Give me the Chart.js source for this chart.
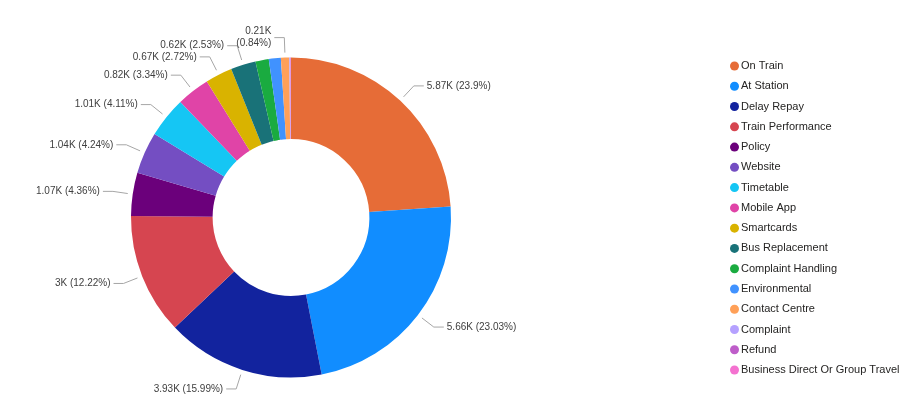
<!DOCTYPE html>
<html>
<head>
<meta charset="UTF-8">
<style>
  body { margin: 0; background: #fff; }
  #wrap { position: relative; width: 903px; height: 408px; }
</style>
</head>
<body>
<div id="wrap"><canvas id="myChart"></canvas></div>
<script src="https://cdn.jsdelivr.net/npm/chart.js@4/dist/chart.umd.min.js"></script>
<script>
const categories = ['On Train', 'At Station', 'Delay Repay', 'Train Performance', 'Policy', 'Website',
  'Timetable', 'Mobile App', 'Smartcards', 'Bus Replacement', 'Complaint Handling', 'Environmental',
  'Contact Centre', 'Complaint', 'Refund', 'Business Direct Or Group Travel'];
const counts = [5870, 5656, 3927, 3001, 1071, 1041, 1009, 820, 668, 621, 330, 298, 206, 22, 12, 8];
const colours = ['#E66C37', '#118DFF', '#12239E', '#D64550', '#6B007B', '#744EC2', '#15C6F4', '#E044A7',
  '#D9B300', '#197278', '#1AAB40', '#4092FF', '#FFA058', '#B5A1FF', '#BE5DC9', '#F472D0'];

const labelFont = '10px "Liberation Sans", Arial, sans-serif';
const legendFont = '11px "Liberation Sans", Arial, sans-serif';

function fmtK(v) { return Number((v / 1000).toFixed(2)) + 'K'; }
function fmtPct(p) { return Number(p.toFixed(2)) + '%'; }

// data labels outside the ring with leader lines, hidden when they would overlap
const outsideLabels = {
  id: 'outsideLabels',
  afterDatasetsDraw(chart) {
    const ctx = chart.ctx;
    const arcs = chart.getDatasetMeta(0).data;
    const data = chart.data.datasets[0].data;
    const total = data.reduce((a, b) => a + b, 0);
    const placed = [];
    ctx.save();
    ctx.font = labelFont;
    ctx.textBaseline = 'middle';
    arcs.forEach((arc, i) => {
      const p = arc.getProps(['x', 'y', 'startAngle', 'endAngle', 'outerRadius'], true);
      const mid = (p.startAngle + p.endAngle) / 2;
      const cos = Math.cos(mid), sin = Math.sin(mid);
      const sx = p.x + cos * (p.outerRadius + 5), sy = p.y + sin * (p.outerRadius + 5);
      const ex = p.x + cos * (p.outerRadius + 20), ey = p.y + sin * (p.outerRadius + 20);
      const right = cos >= 0;
      const hx = ex + (right ? 10 : -10);
      const tx = hx + (right ? 3 : -3);
      const val = fmtK(data[i]), pct = fmtPct(data[i] / total * 100);
      const tries = [[val + ' (' + pct + ')'], [val, '(' + pct + ')']];
      for (const lines of tries) {
        const w = Math.max(...lines.map(l => ctx.measureText(l).width));
        const h = lines.length === 1 ? 10 : 22;
        const box = { l: right ? tx : tx - w, r: right ? tx + w : tx, t: ey - h / 2, b: ey + h / 2 };
        const hit = placed.some(b => box.l < b.r && box.r > b.l && box.t < b.b && box.b > b.t);
        if (hit) continue;
        placed.push({ l: Math.min(box.l, hx), r: Math.max(box.r, hx), t: box.t, b: box.b });
        ctx.strokeStyle = '#A6A6A6';
        ctx.lineWidth = 1;
        ctx.beginPath();
        ctx.moveTo(sx, sy);
        ctx.lineTo(ex, ey);
        ctx.lineTo(hx, ey);
        ctx.stroke();
        ctx.fillStyle = '#404040';
        ctx.textAlign = right ? 'left' : 'right';
        lines.forEach((l, k) => {
          ctx.fillText(l, tx, ey + (k - (lines.length - 1) / 2) * 12);
        });
        break;
      }
    });
    ctx.restore();
  }
};

// legend column on the right
const sideLegend = {
  id: 'sideLegend',
  afterDraw(chart) {
    const ctx = chart.ctx;
    const ds = chart.data.datasets[0];
    ctx.save();
    ctx.font = legendFont;
    ctx.textBaseline = 'middle';
    ctx.textAlign = 'left';
    chart.data.labels.forEach((lab, i) => {
      const y = 66 + i * 20.27;
      ctx.fillStyle = ds.backgroundColor[i];
      ctx.beginPath();
      ctx.arc(734.5, y, 4.5, 0, Math.PI * 2);
      ctx.fill();
      ctx.fillStyle = '#252423';
      ctx.fillText(lab, 741, y);
    });
    ctx.restore();
  }
};

new Chart('myChart', {
  type: 'doughnut',
  data: {
    labels: categories,
    datasets: [{
      data: counts,
      backgroundColor: colours,
      borderWidth: 0
    }]
  },
  options: {
    responsive: true,
    maintainAspectRatio: false,
    animation: false,
    cutout: '49%',
    layout: { padding: { left: 131, right: 452, top: 57, bottom: 30 } },
    plugins: {
      legend: { display: false },
      tooltip: { enabled: false }
    }
  },
  plugins: [outsideLabels, sideLegend]
});
</script>
</body>
</html>
